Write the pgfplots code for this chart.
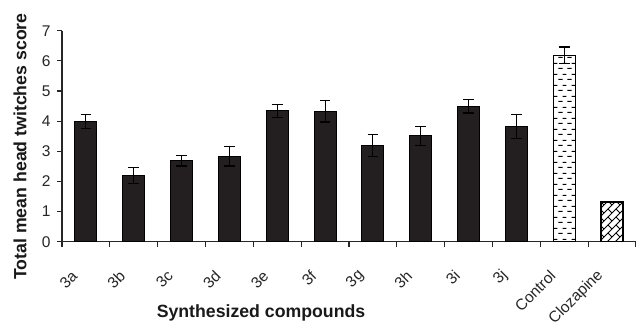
\documentclass[border=0pt]{standalone}
\usepackage{fontspec}
\setmainfont{Liberation Sans}
\usepackage{pgfplots}
\pgfplotsset{compat=1.18}
\usepackage{pgfplotstable}
\usetikzlibrary{patterns}

\definecolor{barblack}{HTML}{231F20}

\pgfdeclarepatternformonly{dashrows}{\pgfqpoint{0pt}{0pt}}{\pgfqpoint{9pt}{10.6pt}}{\pgfqpoint{9pt}{10.6pt}}{%
  \pgfsetlinewidth{1.1pt}%
  \pgfpathmoveto{\pgfqpoint{0.5pt}{2.65pt}}\pgfpathlineto{\pgfqpoint{5pt}{2.65pt}}%
  \pgfpathmoveto{\pgfqpoint{5pt}{7.95pt}}\pgfpathlineto{\pgfqpoint{9pt}{7.95pt}}%
  \pgfusepath{stroke}}

\pgfdeclarepatternformonly{brick45}{\pgfqpoint{-1pt}{-1pt}}{\pgfqpoint{9pt}{9pt}}{\pgfqpoint{8pt}{8pt}}{%
  \pgfsetlinewidth{0.9pt}%
  \pgfpathmoveto{\pgfqpoint{0pt}{0pt}}\pgfpathlineto{\pgfqpoint{8pt}{8pt}}%
  \pgfpathmoveto{\pgfqpoint{4pt}{4pt}}\pgfpathlineto{\pgfqpoint{0pt}{8pt}}%
  \pgfusepath{stroke}}

\pgfplotstableread{
x y e
0 4.00 0.23
1 2.19 0.27
2 2.69 0.18
3 2.83 0.32
4 4.34 0.22
5 4.33 0.36
6 3.19 0.36
7 3.51 0.31
8 4.50 0.23
9 3.83 0.40
}\compounds
\pgfplotstableread{
x y e
10 6.19 0.27
}\control
\pgfplotstableread{
x y
11 1.32
}\clozapine

\begin{document}
\begin{tikzpicture}
\begin{axis}[
  name=ax,
  scale only axis,
  width=574pt, height=211pt,
  xmin=-0.5, xmax=11.5,
  ymin=0, ymax=7,
  axis lines*=left,
  axis line style={-, line width=1.2pt, black!85},
  ybar,
  bar width=22pt,
  xtick={0,...,11},
  xticklabels={3a,3b,3c,3d,3e,3f,3g,3h,3i,3j,Control,Clozapine},
  minor xtick={-0.5,0.5,...,11.5},
  ytick={0,...,7},
  tick align=outside,
  major tick length=5pt,
  minor tick length=5pt,
  major x tick style={draw=none},
  tick style={line width=1.1pt, black!85},
  /pgf/number format/assume math mode=true,
  tick label style={font=\fontsize{15.5}{15.5}\selectfont, text=black!85},
  xticklabel style={xshift=-9pt, yshift=-24pt, rotate=45, anchor=east},
  yticklabel style={xshift=-3pt},
  xlabel={Synthesized compounds},
  ylabel={Total mean head twitches score},
  label style={font=\bfseries\fontsize{17.7}{17.7}\selectfont, text=black!90},
  xlabel style={at={(axis description cs:0.3467,0)}, anchor=base, yshift=-76pt},
  ylabel style={at={([xshift=-42pt]axis description cs:0,0.451)}, anchor=center},
  error bars/error bar style={line width=1.1pt, black},
  error bars/error mark options={rotate=90, mark size=5.3pt, line width=1.1pt, black},
]
\addplot[bar shift=0pt, fill=barblack, draw=black, line width=1pt,
  error bars/.cd, y dir=both, y explicit]
  table[x=x, y=y, y error=e]{\compounds};
\addplot[bar shift=0pt, pattern=dashrows, draw=black, line width=1.2pt,
  error bars/.cd, y dir=both, y explicit]
  table[x=x, y=y, y error=e]{\control};
\addplot[bar shift=0pt, pattern=brick45, draw=black, line width=1.2pt]
  table[x=x, y=y]{\clozapine};
\end{axis}
\pgfresetboundingbox
\path ([shift={(-62pt,-79.3pt)}]ax.south west) rectangle ([shift={(0pt,30.7pt)}]ax.north east);
\end{tikzpicture}
\end{document}
